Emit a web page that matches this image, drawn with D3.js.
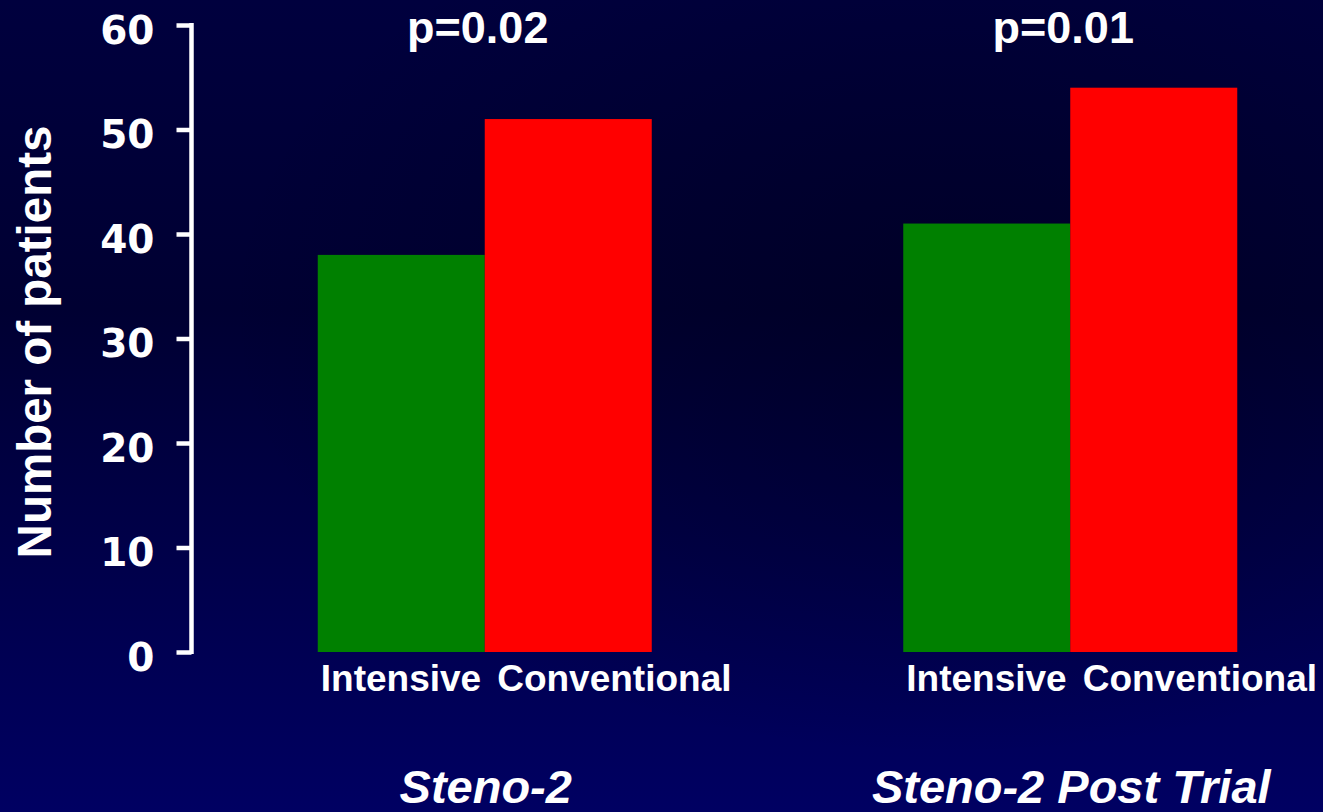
<!DOCTYPE html>
<html>
<head>
<meta charset="utf-8">
<script src="https://cdn.jsdelivr.net/npm/d3@7"></script>
<style>
  html, body { margin: 0; padding: 0; background: #000040; }
  svg { display: block; }
</style>
</head>
<body>
<svg id="chart" width="1323" height="812"></svg>
<script>
// Patient counts per study and treatment arm
const studies = ["Steno-2", "Steno-2 Post Trial"];
const arms = ["Intensive", "Conventional"];
const intensiveValues = [38, 41];
const conventionalValues = [51, 54];
const pValues = ["p=0.02", "p=0.01"];
const yTicks = [0, 10, 20, 30, 40, 50, 60];
const armColors = ["#008000", "#ff0000"];

const rows = studies.map((s, i) => ({
  study: s,
  p: pValues[i],
  values: [
    { arm: arms[0], value: intensiveValues[i] },
    { arm: arms[1], value: conventionalValues[i] }
  ]
}));

const W = 1323, H = 812;
const svg = d3.select("#chart");

// Background: deep navy, darkest around the upper middle, lighter at the foot
const defs = svg.append("defs");
const lg = defs.append("linearGradient").attr("id", "bg")
  .attr("x1", 0).attr("y1", 0).attr("x2", 0).attr("y2", 1);
lg.append("stop").attr("offset", "0%").attr("stop-color", "#00003e");
lg.append("stop").attr("offset", "38%").attr("stop-color", "#000032");
lg.append("stop").attr("offset", "100%").attr("stop-color", "#000062");
svg.append("rect").attr("width", W).attr("height", H).attr("fill", "url(#bg)");

const rg = defs.append("radialGradient").attr("id", "shade")
  .attr("cx", 0.72).attr("cy", 0.38).attr("r", 0.55);
rg.append("stop").attr("offset", "0%").attr("stop-color", "#000018").attr("stop-opacity", 0.45);
rg.append("stop").attr("offset", "100%").attr("stop-color", "#000018").attr("stop-opacity", 0);
svg.append("rect").attr("width", W).attr("height", H).attr("fill", "url(#shade)");

// Scales
const y = d3.scaleLinear().domain([0, 60]).range([652, 25]);
const x0 = d3.scaleBand().domain(studies).range([192, 1363]).padding(0);
const x1 = d3.scaleBand().domain(arms).range([0, x0.bandwidth()])
  .paddingInner(0).paddingOuter(0.753);
const color = d3.scaleOrdinal().domain(arms).range(armColors);

// Y axis
const yAxis = d3.axisLeft(y).tickValues(yTicks).tickSize(15).tickSizeOuter(0).tickPadding(22);
const ga = svg.append("g").attr("transform", "translate(191.5,0)").call(yAxis);
ga.select(".domain").attr("stroke", "#ffffff").attr("stroke-width", 4.5)
  .attr("d", `M0,${y(60) - 2}V${y(0) + 2}`);
ga.selectAll(".tick line").attr("stroke", "#ffffff").attr("stroke-width", 4.5);
ga.selectAll(".tick text")
  .attr("fill", "#ffffff")
  .attr("font-family", "'DejaVu Sans', sans-serif")
  .attr("font-weight", "bold")
  .attr("font-size", 39)
  .attr("dy", "0.47em");

// Y axis title
svg.append("text")
  .attr("transform", "translate(51,342) rotate(-90)")
  .attr("text-anchor", "middle")
  .attr("fill", "#ffffff")
  .attr("font-family", "'Liberation Sans', Arial, sans-serif")
  .attr("font-weight", "bold")
  .attr("font-size", 47.5)
  .text("Number of patients");

// Bars
const groups = svg.selectAll("g.study").data(rows).join("g")
  .attr("class", "study")
  .attr("transform", d => `translate(${x0(d.study)},0)`);

groups.selectAll("rect").data(d => d.values).join("rect")
  .attr("x", d => x1(d.arm))
  .attr("width", x1.bandwidth())
  .attr("y", d => y(d.value))
  .attr("height", d => y(0) - y(d.value))
  .attr("fill", d => color(d.arm));

// Arm labels under each pair of bars
const armLabel = groups.append("text")
  .attr("x", x1(arms[0]) + 3)
  .attr("y", 691)
  .attr("fill", "#ffffff")
  .attr("font-family", "'Liberation Sans', Arial, sans-serif")
  .attr("font-weight", "bold")
  .attr("font-size", 37);
armLabel.append("tspan").text(arms[0]);
armLabel.append("tspan").attr("dx", 16).text(arms[1]);

// p-values above each group
groups.append("text")
  .attr("x", x0.bandwidth() / 2 - 7)
  .attr("y", 43)
  .attr("text-anchor", "middle")
  .attr("fill", "#ffffff")
  .attr("font-family", "'Liberation Sans', Arial, sans-serif")
  .attr("font-weight", "bold")
  .attr("font-size", 45)
  .text(d => d.p);

// Study names along the foot
groups.append("text")
  .attr("x", x0.bandwidth() / 2 + 1)
  .attr("y", 803)
  .attr("text-anchor", "middle")
  .attr("fill", "#ffffff")
  .attr("font-family", "'Liberation Sans', Arial, sans-serif")
  .attr("font-weight", "bold")
  .attr("font-style", "italic")
  .attr("font-size", 47)
  .text(d => d.study);
</script>
</body>
</html>
